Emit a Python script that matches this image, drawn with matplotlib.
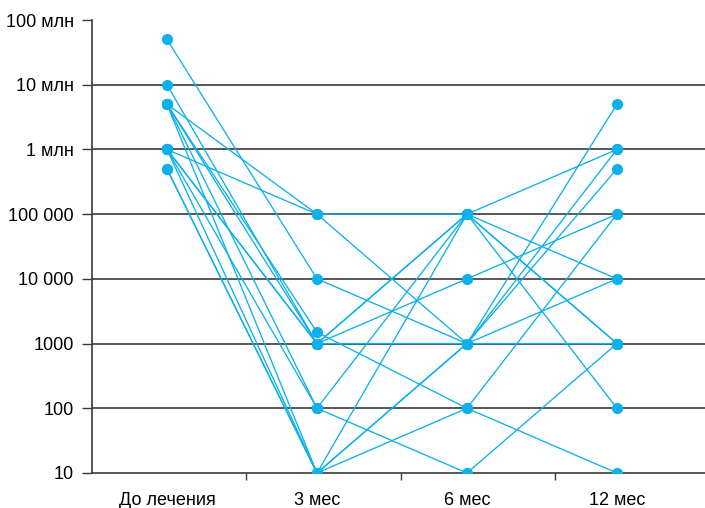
# Viral load per patient before treatment and at 3, 6 and 12 months (log scale)

import numpy as np
import matplotlib.pyplot as plt

plt.rcParams['font.family'] = ['Liberation Sans', 'DejaVu Sans']

stages = ['До лечения', '3 мес', '6 мес', '12 мес']

# one row per patient: before, 3 mo, 6 mo, 12 mo
patients = [
    [5e6, 1e5, 1e5, 1e6],
    [1e6, 1e5, 1e3, 5e6],
    [5e7, 1e4, 1e3, 1e6],
    [1e7, 1e3, 1e5, 1e4],
    [5e6, 1e3, 1e5, 1e3],
    [1e6, 1e3, 1e4, 1e5],
    [1e6, 1e3, 1e3, 5e5],
    [5e6, 1.5e3, 1e2, 1e5],
    [5e6, 1e2, 1e5, 1e3],
    [1e6, 1e2, 10, 1e3],
    [5e6, 10, 1e3, 1e4],
    [1e6, 10, 1e3, 1e3],
    [5e5, 10, 1e2, 10],
    [5e5, 10, 1e5, 1e2],
]

yticks = [10, 1e2, 1e3, 1e4, 1e5, 1e6, 1e7, 1e8]
ylabels = ['10', '100', '1000', '10 000', '100 000', '1 млн', '10 млн', '100 млн']

blue = '#0cb0ea'

fig = plt.figure(figsize=(7.05, 5.08), dpi=100)
ax = fig.add_axes([0.1305, 0.0689, 0.8695, 0.8917])

# horizontal reference lines
for v in yticks[1:-1]:
    ax.axhline(v, color='#3a3a3a', lw=1.2, zorder=1)

x = np.arange(len(stages))
for p in patients:
    ax.plot(x, p, color=blue, lw=0.95, zorder=2)
for p in patients:
    ax.plot(x, p, linestyle='none', marker='o', ms=7, color=blue, zorder=3)

ax.set_yscale('log')
ax.set_ylim(10, 1e8)
ax.set_xlim(-0.5, 3.587)

ax.set_yticks(yticks)
ax.set_yticklabels(ylabels)
ax.minorticks_off()
ax.tick_params(axis='y', length=7, width=1, color='#3a3a3a', pad=6, labelsize=13)

ax.set_xticks(x)
ax.set_xticklabels(stages)
ax.set_xticks([0.53, 1.56, 2.59], minor=True)
ax.tick_params(axis='x', which='major', length=0, pad=14, labelsize=13)
ax.tick_params(axis='x', which='minor', length=5, width=1, color='#3a3a3a')

for s in ['top', 'right']:
    ax.spines[s].set_visible(False)
for s in ['left', 'bottom']:
    ax.spines[s].set_color('#3a3a3a')
    ax.spines[s].set_linewidth(1.2)

plt.savefig('out.png', dpi=100)
